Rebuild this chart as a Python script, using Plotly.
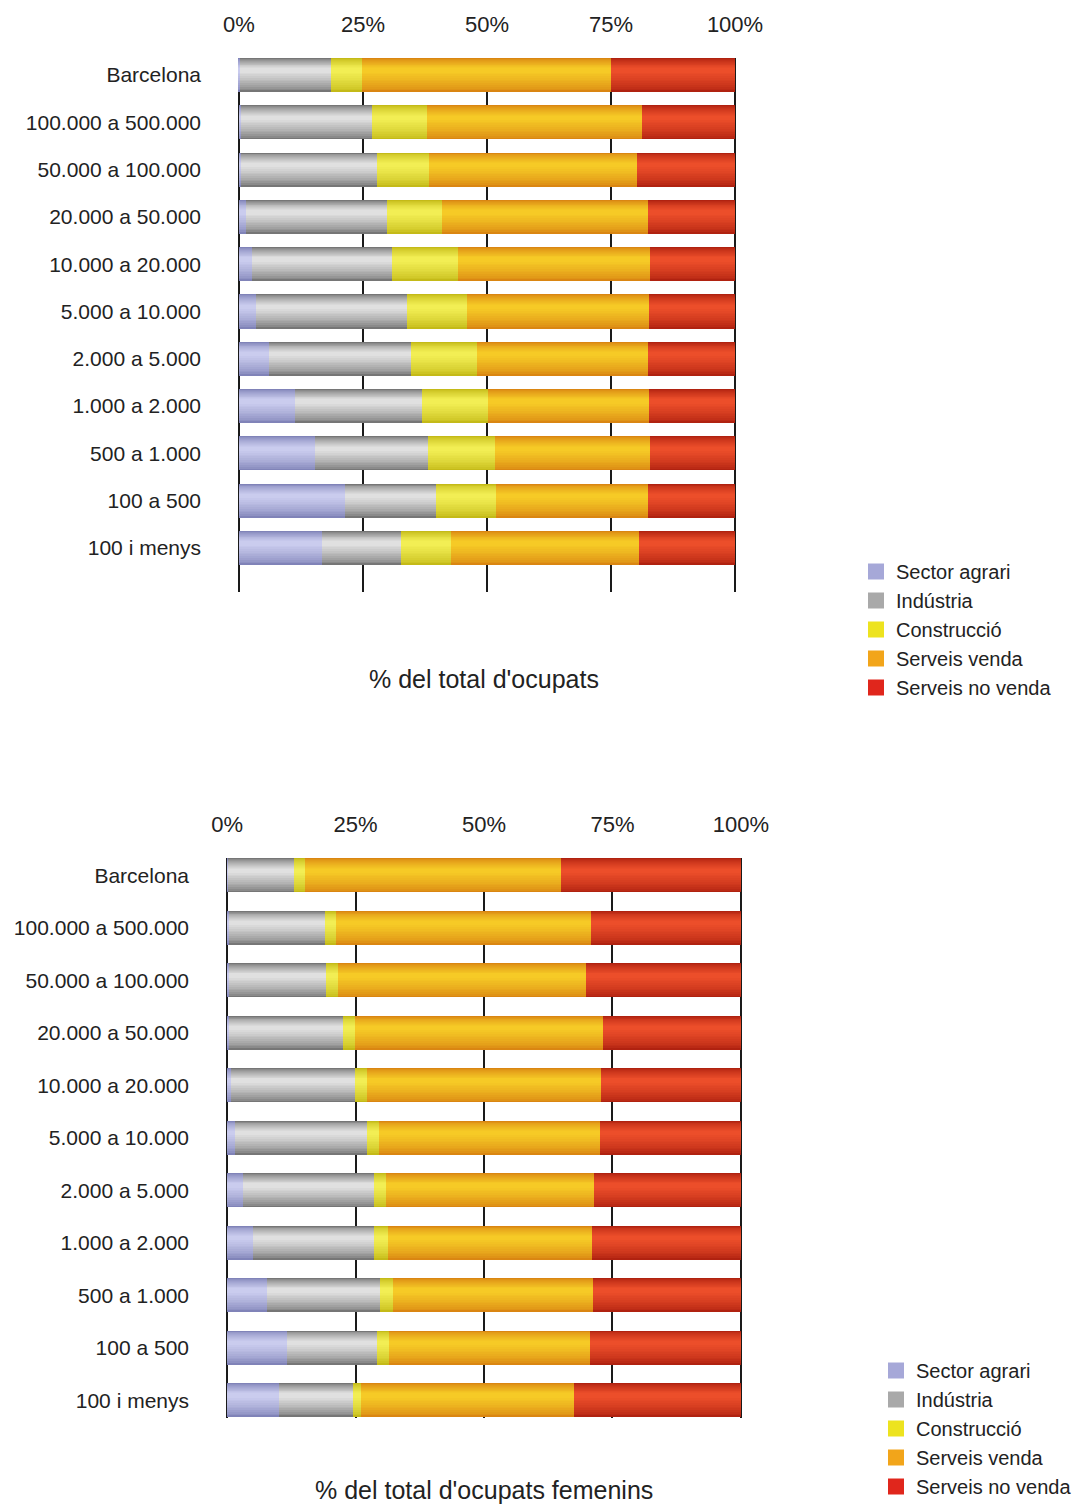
import numpy as np
import plotly.graph_objects as go

# ---------------- data ----------------
categories = ["Barcelona", "100.000 a 500.000", "50.000 a 100.000", "20.000 a 50.000",
              "10.000 a 20.000", "5.000 a 10.000", "2.000 a 5.000", "1.000 a 2.000",
              "500 a 1.000", "100 a 500", "100 i menys"]

series_names = ["Sector agrari", "Indústria", "Construcció", "Serveis venda", "Serveis no venda"]

# % del total d'ocupats
agrari_total = [0.3, 0.5, 0.5, 1.4, 2.6, 3.5, 6.1, 11.3, 15.4, 21.3, 16.8]
industria_total = [18.3, 26.3, 27.4, 28.5, 28.3, 30.3, 28.6, 25.6, 22.8, 18.4, 15.8]
construccio_total = [6.2, 11.2, 10.4, 11.0, 13.2, 12.2, 13.3, 13.3, 13.4, 12.2, 10.2]
serveis_venda_total = [50.2, 43.3, 42.0, 41.6, 38.7, 36.6, 34.5, 32.4, 31.3, 30.6, 37.8]
serveis_no_venda_total = [25.0, 18.7, 19.7, 17.5, 17.2, 17.4, 17.5, 17.4, 17.1, 17.5, 19.4]

# % del total d'ocupats femenins
agrari_fem = [0.2, 0.3, 0.3, 0.3, 0.8, 1.6, 3.1, 5.1, 7.8, 11.6, 10.2]
industria_fem = [12.8, 18.7, 19.0, 22.3, 24.0, 25.6, 25.4, 23.5, 22.0, 17.5, 14.4]
construccio_fem = [2.2, 2.1, 2.3, 2.3, 2.5, 2.3, 2.5, 2.7, 2.4, 2.5, 1.4]
serveis_venda_fem = [49.7, 49.8, 48.2, 48.2, 45.4, 43.1, 40.5, 39.7, 39.0, 39.0, 41.5]
serveis_no_venda_fem = [35.1, 29.1, 30.2, 26.9, 27.3, 27.4, 28.5, 29.0, 28.8, 29.4, 32.5]

tick_vals = [0, 25, 50, 75, 100]
tick_text = ["0%", "25%", "50%", "75%", "100%"]

# ---------------- styles ----------------
legend_colors = ["#a6a8d8", "#a9a9a9", "#ede31f", "#f2a51a", "#e0261c"]
# (dark edge, light highlight) for the cylinder shading
shade_pairs = [
    ((128, 131, 184), (202, 204, 238)),
    ((118, 118, 118), (224, 224, 224)),
    ((196, 186, 24), (242, 238, 84)),
    ((218, 134, 18), (246, 202, 38)),
    ((176, 34, 16), (236, 78, 42)),
]
FONT = "Liberation Sans, Arial, Helvetica, sans-serif"
PAGE_OFF = 8                      # page body margin
W, H = 1088 - PAGE_OFF, 1506 - PAGE_OFF
N_LAYERS = 12

fig = go.Figure()


def mix(c1, c2, t):
    return "rgb(%d,%d,%d)" % tuple(round(a + (b - a) * t) for a, b in zip(c1, c2))


def add_chart(series, xaxis, yaxis, legend, bar_w):
    arr = np.array(series, dtype=float)
    bases = np.vstack([np.zeros(arr.shape[1]), np.cumsum(arr, axis=0)[:-1]])
    for i, name in enumerate(series_names):
        dark, light = shade_pairs[i]
        for k in range(N_LAYERS):
            t = k / (N_LAYERS - 1)
            top = -bar_w / 2 + bar_w * 0.30 * t
            bottom = bar_w / 2 - bar_w * 0.57 * t
            color = mix(dark, light, t ** 0.7)
            fig.add_trace(go.Bar(
                orientation="h", y=categories, x=arr[i], base=bases[i],
                width=bottom - top, offset=top, name=name,
                marker=dict(color=color, line=dict(width=0)),
                showlegend=False, legendgroup=legend + name,
                xaxis=xaxis, yaxis=yaxis,
                hovertemplate=name + ": %{x:.1f}%<extra>%{y}</extra>",
            ))
        # legend entry (no visible marks of its own)
        fig.add_trace(go.Scatter(
            x=[None], y=[None], mode="markers", name=name,
            marker=dict(symbol="square", size=18, color=legend_colors[i]),
            showlegend=True, legend=legend, legendgroup=legend + name,
            xaxis=xaxis, yaxis=yaxis, hoverinfo="skip",
        ))


add_chart([agrari_total, industria_total, construccio_total, serveis_venda_total,
           serveis_no_venda_total], "x", "y", "legend", 0.72)
add_chart([agrari_fem, industria_fem, construccio_fem, serveis_venda_fem,
           serveis_no_venda_fem], "x2", "y2", "legend2", 0.65)


def px(x):      # page x pixel -> paper fraction
    return (x - PAGE_OFF) / W


def py(y):      # page y pixel -> paper fraction
    return 1 - (y - PAGE_OFF) / H


xcommon = dict(range=[-0.6, 100.6], tickvals=tick_vals, ticktext=tick_text, side="top",
               showgrid=True, gridcolor="#1a1a1a", gridwidth=2, zeroline=False,
               showline=False, ticks="", ticklabelstandoff=21, fixedrange=True,
               automargin=False,
               tickfont=dict(family=FONT, size=22, color="#222"))
ycommon = dict(type="category", categoryarray=categories, showgrid=False, zeroline=False,
               showline=False, ticks="", ticklabelstandoff=34, fixedrange=True,
               automargin=False,
               tickfont=dict(family=FONT, size=21, color="#222"))

fig.update_layout(
    width=W, height=H,
    margin=dict(l=0, r=0, t=0, b=0, autoexpand=False),
    paper_bgcolor="white", plot_bgcolor="white",
    barmode="overlay", bargap=0,
    font=dict(family=FONT, color="#222"),
    xaxis=dict(domain=[px(236), px(738)], anchor="y", **xcommon),
    yaxis=dict(domain=[py(592), py(58)], anchor="x", range=[10.93, -0.36], **ycommon),
    xaxis2=dict(domain=[px(224), px(744)], anchor="y2", **xcommon),
    yaxis2=dict(domain=[py(1418), py(858)], anchor="x2", range=[10.34, -0.33], **ycommon),
    legend=dict(x=px(856), y=py(552), xanchor="left", yanchor="top",
                font=dict(family=FONT, size=20, color="#222"), bgcolor="rgba(0,0,0,0)",
                traceorder="normal", itemclick=False, itemdoubleclick=False),
    legend2=dict(x=px(876), y=py(1351), xanchor="left", yanchor="top",
                 font=dict(family=FONT, size=20, color="#222"), bgcolor="rgba(0,0,0,0)",
                 traceorder="normal", itemclick=False, itemdoubleclick=False),
    annotations=[
        dict(text="% del total d'ocupats", x=px(484), y=py(679), xref="paper",
             yref="paper", showarrow=False, xanchor="center", yanchor="middle",
             font=dict(family=FONT, size=25, color="#222")),
        dict(text="% del total d'ocupats femenins", x=px(484), y=py(1490),
             xref="paper", yref="paper", showarrow=False, xanchor="center",
             yanchor="middle", font=dict(family=FONT, size=25, color="#222")),
    ],
)

fig.write_html("out.html")
